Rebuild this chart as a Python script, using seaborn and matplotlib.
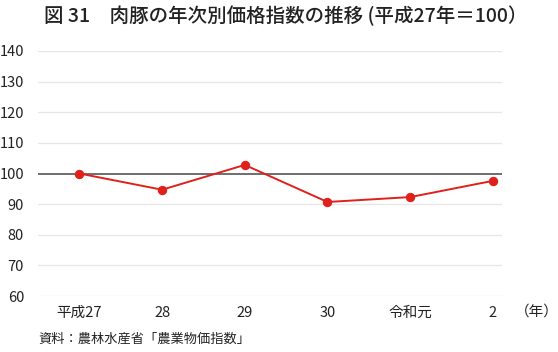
import matplotlib
matplotlib.use("Agg")
import matplotlib.pyplot as plt
import seaborn as sns
import pandas as pd

years = ["平成27", "28", "29", "30", "令和元", "2"]
index_values = [100.0, 94.7, 102.8, 90.7, 92.3, 97.6]
y_ticks = [60, 70, 80, 90, 100, 110, 120, 130, 140]

sns.set_theme(style="white")
plt.rcParams['font.family'] = ['Noto Sans CJK JP', 'DejaVu Sans']

df = pd.DataFrame({"year": years, "value": index_values, "pos": range(len(years))})

fig = plt.figure(figsize=(5.58, 3.52), dpi=100)
ax = fig.add_axes([38/558, 1-296/352, (502-38)/558, (296-51)/352])

for t in y_ticks:
    if t != 100:
        ax.axhline(t, color="#e6e6e6", lw=0.9, zorder=0)
ax.axhline(100, color="#555555", lw=1.2, zorder=1)

sns.lineplot(data=df, x="pos", y="value", ax=ax, color="#e0201b", lw=1.4,
             marker="o", markersize=6, markeredgecolor="#e0201b", zorder=3)

ax.set_xlim(-0.5, 5.11)
ax.set_ylim(60, 140)
ax.set_yticks(y_ticks)
ax.set_yticklabels([str(t) for t in y_ticks], fontsize=10.5, color="#222222")
ax.set_xticks(range(len(years)))
ax.set_xticklabels(years, fontsize=10.5, color="#222222")
ax.tick_params(axis="both", length=0)
ax.tick_params(axis="y", pad=10)
ax.tick_params(axis="x", pad=7)
ax.set_xlabel("")
ax.set_ylabel("")
for s in ax.spines.values():
    s.set_visible(False)

fig.text(537/558, 1-312/352, "（年）", fontsize=10.5, ha="center", va="center", color="#222222")
fig.text(286/558, 1-16/352, "図 31　肉豚の年次別価格指数の推移 (平成27年＝100）", fontsize=14,
         fontweight="medium", ha="center", va="center", color="#222222")
fig.text(38/558, 1-339/352, "資料：農林水産省「農業物価指数」", fontsize=9.5,
         ha="left", va="center", color="#222222")

fig.savefig("out.png", dpi=100)
